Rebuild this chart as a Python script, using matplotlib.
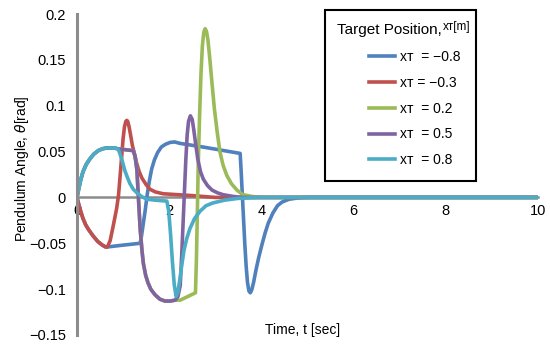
import matplotlib.pyplot as plt
from matplotlib.lines import Line2D
from matplotlib.patches import Rectangle

plt.rcParams['font.family'] = ['Liberation Sans', 'DejaVu Sans']

# traced curves: time [s] and pendulum angle [rad]
t_m08 = [0, 0.04, 0.08, 0.13, 0.19, 0.25, 0.35, 0.45, 0.55, 0.62, 0.66, 1.0, 1.37, 1.4,
         1.44, 1.48, 1.52, 1.57, 1.62, 1.68, 1.75, 1.83, 1.92, 2.02, 2.12, 2.23, 2.73, 3.54,
         3.56, 3.58, 3.61, 3.64, 3.67, 3.7, 3.73, 3.76, 3.79, 3.83, 3.88, 3.94, 4.01, 4.08,
         4.15, 4.25, 4.35, 4.45, 4.6, 4.8, 5.0, 10]
th_m08 = [0, -0.008, -0.015, -0.023, -0.03, -0.035, -0.042, -0.048, -0.052, -0.054, -0.054,
          -0.052, -0.050, -0.042, -0.028, -0.014, 0.002, 0.018, 0.031, 0.041, 0.049, 0.055,
          0.058, 0.060, 0.0605, 0.059, 0.055, 0.048, 0.03, 0.01, -0.02, -0.05, -0.075,
          -0.093, -0.102, -0.104, -0.101, -0.093, -0.08, -0.066, -0.052, -0.039, -0.028,
          -0.017, -0.009, -0.005, -0.002, -0.0005, 0, 0]

t_m03 = [0, 0.04, 0.08, 0.13, 0.19, 0.25, 0.35, 0.45, 0.55, 0.62, 0.66, 0.72, 0.79, 0.86,
         0.9, 0.93, 0.97, 1.0, 1.03, 1.06, 1.08, 1.1, 1.13, 1.17, 1.2, 1.24, 1.29, 1.35, 1.41,
         1.5, 1.58, 1.7, 1.87, 2.5, 3.0, 10]
th_m03 = [0, -0.008, -0.015, -0.023, -0.03, -0.035, -0.042, -0.048, -0.052, -0.054, -0.054,
          -0.047, -0.030, -0.012, 0.002, 0.02, 0.045, 0.064, 0.077, 0.083, 0.084, 0.083,
          0.077, 0.066, 0.057, 0.049, 0.038, 0.028, 0.021, 0.014, 0.009, 0.006, 0.004,
          0.002, 0, 0]

t_p02 = [0, 0.04, 0.08, 0.13, 0.2, 0.28, 0.36, 0.46, 0.55, 0.65, 0.8, 0.89, 1.22, 1.26,
         1.3, 1.33, 1.37, 1.41, 1.44, 1.49, 1.54, 1.6, 1.69, 1.8, 1.91, 2.02, 2.13, 2.24,
         2.57, 2.59, 2.61, 2.63, 2.66, 2.69, 2.72, 2.75, 2.78, 2.81, 2.84, 2.88, 2.93, 2.98,
         3.04, 3.1, 3.17, 3.25, 3.35, 3.47, 3.6, 3.8, 4.0, 10]
th_p02 = [0, 0.01, 0.019, 0.028, 0.036, 0.042, 0.047, 0.051, 0.053, 0.054, 0.054, 0.053,
          0.051, 0.045, 0.03, 0.002, -0.034, -0.058, -0.072, -0.085, -0.093, -0.1, -0.106,
          -0.111, -0.113, -0.113, -0.112, -0.112, -0.104, -0.07, -0.02, 0.035, 0.09, 0.135,
          0.165, 0.18, 0.184, 0.181, 0.172, 0.152, 0.124, 0.097, 0.072, 0.05, 0.035, 0.024,
          0.015, 0.008, 0.003, 0.001, 0, 0]

t_p05 = [0, 0.04, 0.08, 0.13, 0.2, 0.28, 0.36, 0.46, 0.55, 0.65, 0.8, 0.89, 1.22, 1.26,
         1.3, 1.33, 1.37, 1.41, 1.44, 1.49, 1.54, 1.6, 1.69, 1.8, 1.91, 2.02, 2.13, 2.19,
         2.24, 2.27, 2.3, 2.33, 2.36, 2.39, 2.42, 2.46, 2.5, 2.53, 2.57, 2.62, 2.68, 2.74,
         2.83, 2.93, 3.05, 3.17, 3.4, 3.6, 10]
th_p05 = [0, 0.01, 0.019, 0.028, 0.036, 0.042, 0.047, 0.051, 0.053, 0.054, 0.054, 0.053,
          0.051, 0.045, 0.03, 0.002, -0.034, -0.058, -0.072, -0.085, -0.093, -0.1, -0.106,
          -0.111, -0.113, -0.113, -0.112, -0.108, -0.096, -0.065, -0.030, 0.005, 0.04,
          0.068, 0.083, 0.089, 0.085, 0.075, 0.06, 0.042, 0.028, 0.02, 0.013, 0.008, 0.005,
          0.003, 0.001, 0, 0]

t_p08 = [0, 0.04, 0.08, 0.13, 0.2, 0.28, 0.36, 0.46, 0.55, 0.65, 0.8, 0.89, 0.93, 0.98,
         1.04, 1.1, 1.15, 1.22, 1.3, 1.4, 1.52, 1.7, 1.95, 1.99, 2.03, 2.07, 2.11, 2.15, 2.19,
         2.23, 2.27, 2.32, 2.38, 2.45, 2.55, 2.67, 2.8, 2.95, 3.2, 3.5, 4.0, 10]
th_p08 = [0, 0.01, 0.019, 0.028, 0.036, 0.042, 0.047, 0.051, 0.053, 0.054, 0.054, 0.053,
          0.048, 0.04, 0.029, 0.021, 0.015, 0.009, 0.005, 0.001, -0.002, -0.003, -0.004,
          -0.015, -0.04, -0.07, -0.095, -0.108, -0.103, -0.09, -0.075, -0.058, -0.045,
          -0.034, -0.023, -0.015, -0.009, -0.006, -0.003, -0.001, 0, 0]

series = [
    (t_m08, th_m08, '#4F81BD', 'xᴛ  = \u22120.8'),
    (t_m03, th_m03, '#C0504D', 'xᴛ = \u22120.3'),
    (t_p02, th_p02, '#9BBB59', 'xᴛ  = 0.2'),
    (t_p05, th_p05, '#8064A2', 'xᴛ  = 0.5'),
    (t_p08, th_p08, '#4BACC6', 'xᴛ  = 0.8'),
]

yticks = [-0.15, -0.1, -0.05, 0, 0.05, 0.1, 0.15, 0.2]
ytick_labels = ['\u22120.15', '\u22120.1', '\u22120.05', '0', '0.05', '0.1', '0.15', '0.2']
xticks = [0, 2, 4, 6, 8, 10]

fig = plt.figure(figsize=(5.5, 3.47), dpi=100)
ax = fig.add_axes([0.14, 0.0346, 0.838, 0.925])

handles = []
for t, th, c, lab in series:
    ax.plot(t, th, color=c, lw=2.6, solid_capstyle='round', solid_joinstyle='round')
    handles.append(Line2D([], [], color=c, lw=2.6, label=lab))

ax.set_xlim(0, 10)
ax.set_ylim(-0.15, 0.2)
ax.set_yticks(yticks)
ax.set_yticklabels(ytick_labels)
ax.set_xticks(xticks)
ax.set_xticklabels([str(v) for v in xticks])
ax.tick_params(length=0, labelsize=10.5)
ax.tick_params(axis='y', pad=8)
ax.tick_params(axis='x', pad=5)

for s in ['top', 'right']:
    ax.spines[s].set_visible(False)
ax.spines['bottom'].set_position(('data', 0))
ax.spines['bottom'].set_color('#8c8c8c')
ax.spines['bottom'].set_linewidth(1.8)
ax.spines['left'].set_color('#8c8c8c')
ax.spines['left'].set_linewidth(2.2)
ax.spines['bottom'].set_zorder(0)
ax.patch.set_visible(False)

fig.text(0.04, 0.515, 'Pendulum Angle, $\\it{\\theta}$[rad]', rotation=90,
         ha='center', va='center', fontsize=10)
fig.text(0.55, 0.048, 'Time, t [sec]', ha='center', va='center', fontsize=10)

# legend box
fig.patches.append(Rectangle((325 / 550, 1 - 181 / 347), 151 / 550, 171 / 347,
                             transform=fig.transFigure, fill=True, facecolor='white',
                             edgecolor='black', lw=1.5, zorder=5))
title = fig.text(337 / 550, 1 - 34 / 347, 'Target Position,', fontsize=11,
                 va='baseline', zorder=6)
fig.add_artist(plt.Annotation('xᴛ[m]', xy=(1, 0.3), xycoords=title,
                              xytext=(0.5, 0), textcoords='offset points',
                              fontsize=8.5, va='bottom', ha='left', zorder=6))
leg = fig.legend(handles=handles, loc='upper left',
                 bbox_to_anchor=(362 / 550, 1 - 43 / 347), frameon=False,
                 fontsize=10, handlelength=1.9, handletextpad=0.3, labelspacing=0.85,
                 borderpad=0)
leg.set_zorder(7)

plt.savefig('out.png', dpi=100)
